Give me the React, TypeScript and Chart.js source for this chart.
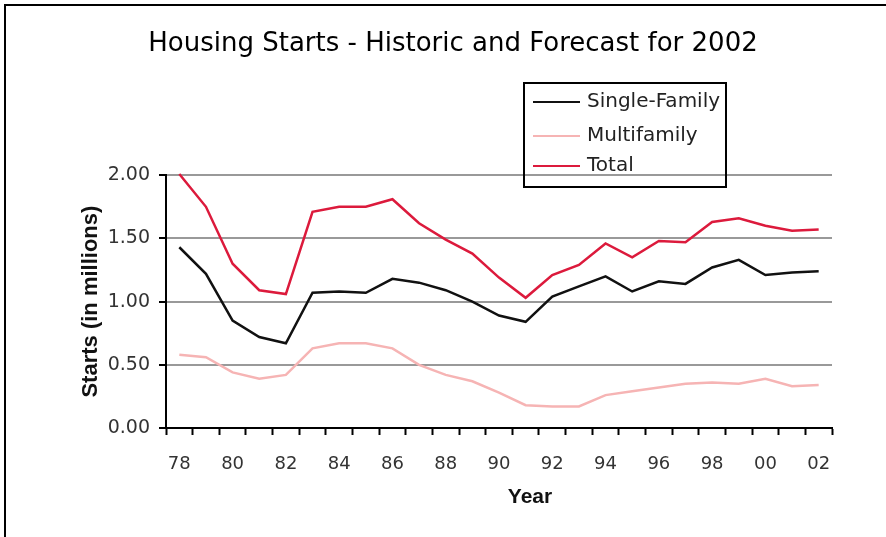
import React, { useEffect, useRef } from "react";
import { Chart, registerables } from "chart.js";

Chart.register(...registerables);

const years = [
  "78", "79", "80", "81", "82", "83", "84", "85", "86", "87", "88", "89", "90",
  "91", "92", "93", "94", "95", "96", "97", "98", "99", "00", "01", "02",
];

const singleFamily = [
  1.43, 1.22, 0.85, 0.72, 0.67, 1.07, 1.08, 1.07, 1.18, 1.15, 1.09, 1.0, 0.89,
  0.84, 1.04, 1.12, 1.2, 1.08, 1.16, 1.14, 1.27, 1.33, 1.21, 1.23, 1.24,
];

const multifamily = [
  0.58, 0.56, 0.44, 0.39, 0.42, 0.63, 0.67, 0.67, 0.63, 0.5, 0.42, 0.37, 0.28,
  0.18, 0.17, 0.17, 0.26, 0.29, 0.32, 0.35, 0.36, 0.35, 0.39, 0.33, 0.34,
];

const total = [
  2.01, 1.75, 1.3, 1.09, 1.06, 1.71, 1.75, 1.75, 1.81, 1.62, 1.49, 1.38, 1.19,
  1.03, 1.21, 1.29, 1.46, 1.35, 1.48, 1.47, 1.63, 1.66, 1.6, 1.56, 1.57,
];

const seriesNames = ["Single-Family", "Multifamily", "Total"];
const seriesColors = ["#111111", "#f6b4b4", "#dc1a3c"];
const xTitle = "Year";

const FONT = "'DejaVu Sans', 'Liberation Sans', Arial, sans-serif";
const BOLD_FONT = "'Liberation Sans', Arial, sans-serif";

const boxLegend = {
  id: "boxLegend",
  afterDraw(chart: any) {
    const ctx = chart.ctx as CanvasRenderingContext2D;
    ctx.save();
    ctx.strokeStyle = "#000";
    ctx.lineWidth = 2;
    ctx.strokeRect(524, 83, 202, 104);
    const rows = [102, 136, 166];
    chart.data.datasets.forEach((ds: any, i: number) => {
      ctx.strokeStyle = ds.borderColor;
      ctx.lineWidth = 2;
      ctx.beginPath();
      ctx.moveTo(533, rows[i]);
      ctx.lineTo(580, rows[i]);
      ctx.stroke();
      ctx.fillStyle = "#222";
      ctx.font = `20px ${FONT}`;
      ctx.textBaseline = "middle";
      ctx.textAlign = "left";
      ctx.fillText(ds.label, 587, rows[i]);
    });
    // x-axis title, placed as in the reference (right of chart centre)
    ctx.fillStyle = "#111";
    ctx.font = `bold 21px ${BOLD_FONT}`;
    ctx.textAlign = "center";
    ctx.textBaseline = "middle";
    ctx.fillText(xTitle, 530, 497);
    ctx.restore();
  },
};

export default function App() {
  const ref = useRef<HTMLCanvasElement | null>(null);

  useEffect(() => {
    if (!ref.current) return;
    const chart = new Chart(ref.current, {
      type: "line",
      data: {
        labels: years,
        datasets: [
          { label: seriesNames[0], data: singleFamily, borderColor: seriesColors[0], borderWidth: 2.5 },
          { label: seriesNames[1], data: multifamily, borderColor: seriesColors[1], borderWidth: 2.5 },
          { label: seriesNames[2], data: total, borderColor: seriesColors[2], borderWidth: 2.5 },
        ].map((d) => ({ ...d, pointRadius: 0, tension: 0, fill: false, clip: 6 })),
      },
      options: {
        animation: false,
        responsive: false,
        devicePixelRatio: 1,
        layout: { padding: { left: 74, right: 54, top: 0, bottom: 0 } },
        plugins: {
          legend: { display: false },
          tooltip: { enabled: false },
          title: {
            display: true,
            text: "Housing Starts - Historic and Forecast for 2002",
            color: "#000",
            font: { family: FONT, size: 26, weight: "normal" },
            padding: { top: 29, bottom: 115 },
          },
        },
        scales: {
          x: {
            type: "category",
            offset: true,
            afterFit: (s: any) => { s.height = 109; },
            grid: {
              offset: true,
              drawOnChartArea: false,
              drawTicks: true,
              tickLength: 7,
              tickColor: "#000",
              tickWidth: 2,
            },
            border: { display: true, color: "#000", width: 2 },
            ticks: {
              autoSkip: false,
              maxRotation: 0,
              padding: 19,
              color: "#333",
              font: { family: FONT, size: 18 },
              callback: (_v: any, i: number) => (i % 2 === 0 ? years[i] : ""),
            },
            title: { display: false },
          },
          y: {
            min: 0,
            max: 2,
            afterFit: (s: any) => { s.width = 92; },
            grid: {
              color: "#999",
              lineWidth: 2,
              drawTicks: true,
              tickLength: 7,
              tickColor: "#000",
              tickWidth: 2,
            },
            border: { display: true, color: "#000", width: 2 },
            ticks: {
              stepSize: 0.5,
              padding: 9,
              color: "#333",
              font: { family: FONT, size: 19 },
              callback: (v: any) => Number(v).toFixed(2),
            },
            title: {
              display: true,
              text: "Starts (in millions)",
              color: "#111",
              font: { family: BOLD_FONT, size: 22, weight: "bold" },
              padding: { top: 4, bottom: 0 },
            },
          },
        },
      },
      plugins: [boxLegend],
    });
    return () => chart.destroy();
  }, []);

  return (
    <div style={{ position: "fixed", left: 0, top: 0, width: 886, height: 537, background: "#fff", overflow: "hidden" }}>
      <canvas ref={ref} width={886} height={537} style={{ position: "absolute", left: 0, top: 0, width: 886, height: 537 }} />
      <div
        style={{
          position: "absolute",
          left: 4,
          top: 4,
          width: 900,
          height: 600,
          borderLeft: "2px solid #000",
          borderTop: "2px solid #000",
          pointerEvents: "none",
        }}
      />
    </div>
  );
}
